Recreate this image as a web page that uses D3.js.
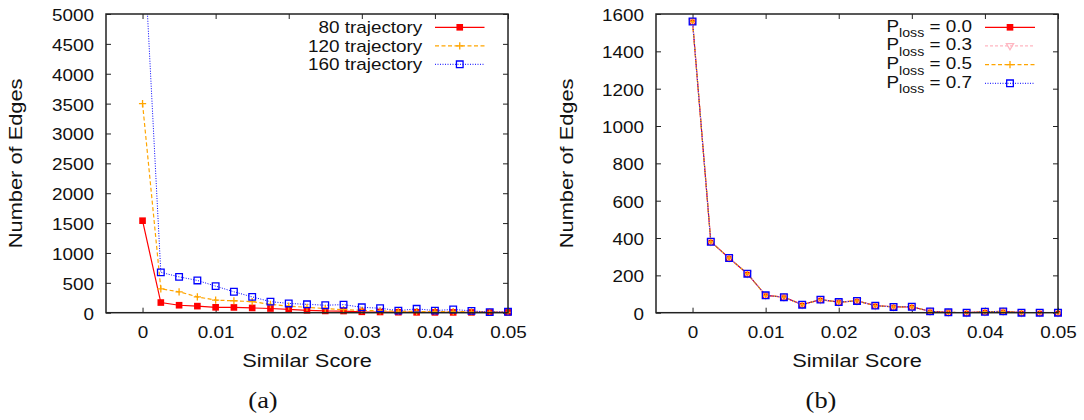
<!DOCTYPE html>
<html>
<head>
<meta charset="utf-8">
<script src="https://cdn.jsdelivr.net/npm/d3@7"></script>
<style>
  html, body { margin: 0; padding: 0; background: #fff; }
  svg { display: block; }
  text { font-family: "Liberation Sans", Arial, Helvetica, sans-serif; fill: #111; }
  text.caption { font-family: "Liberation Serif", "DejaVu Serif", serif; }
</style>
</head>
<body>
<svg id="chart" width="1084" height="420"></svg>
<script>
// Similar-score bins (x values shared by every series)
const scores = [0, 0.0025, 0.005, 0.0075, 0.01, 0.0125, 0.015, 0.0175, 0.02, 0.0225,
                0.025, 0.0275, 0.03, 0.0325, 0.035, 0.0375, 0.04, 0.0425, 0.045, 0.0475, 0.05];

// Panel (a): edges per score for different trajectory counts
const traj80  = [1540, 170, 125, 110, 90, 88, 80, 70, 55, 40, 30, 28, 15, 12, 8, 6, 5, 5, 5, 5, 5];
const traj120 = [3500, 400, 350, 265, 210, 200, 185, 140, 110, 90, 70, 50, 40, 30, 25, 20, 20, 20, 15, 10, 5];
const traj160 = [6600, 675, 600, 540, 445, 350, 265, 185, 155, 140, 125, 135, 90, 75, 35, 65, 35, 55, 30, 10, 15];

// Panel (b): edges per score for different packet-loss rates
const loss00 = [1560, 380, 293, 209, 93, 83, 43, 70, 57, 63, 38, 31, 32, 7, 2, 0, 5, 7, 0, 0, 0];
const loss03 = [1560, 380, 293, 209, 93, 83, 43, 70, 57, 63, 38, 31, 32, 7, 2, 0, 5, 7, 0, 0, 0];
const loss05 = [1560, 380, 293, 209, 93, 83, 43, 70, 57, 63, 38, 31, 32, 7, 2, 0, 5, 7, 0, 0, 0];
const loss07 = [1560, 380, 293, 209, 93, 83, 43, 70, 57, 63, 38, 31, 32, 7, 2, 0, 5, 7, 0, 0, 0];

// Tick values
const xTicks  = [0, 0.01, 0.02, 0.03, 0.04, 0.05];
const yTicksA = [0, 500, 1000, 1500, 2000, 2500, 3000, 3500, 4000, 4500, 5000];
const yTicksB = [0, 200, 400, 600, 800, 1000, 1200, 1400, 1600];

const SX = 1.18; // horizontal glyph stretch used for all labels
const svg = d3.select("#chart");

function markerPath(kind) {
  if (kind === "fsquare" || kind === "osquare") return d3.symbol(d3.symbolSquare, 44)();
  if (kind === "plus") return "M-3.6,0H3.6M0,-3.6V3.6";
  if (kind === "dtri") return "M-3.6,-2.4L3.6,-2.4L0,3.8Z";
  return "";
}
function styleMarker(sel, s) {
  if (s.marker === "fsquare") sel.attr("fill", s.color).attr("stroke", "none");
  else sel.attr("fill", "none").attr("stroke", s.color).attr("stroke-width", 1.3);
}

function stretchedText(g, x, y, str, size, anchor, rot) {
  return g.append("text")
    .attr("transform", `translate(${x},${y})` + (rot ? ` rotate(${rot})` : "") + ` scale(${SX},1)`)
    .attr("font-size", size)
    .attr("text-anchor", anchor)
    .text(str);
}

function panel(cfg) {
  const { left, right, top, bottom } = cfg;
  const x = d3.scaleLinear().domain([-0.005, 0.05]).range([left, right]);
  const y = d3.scaleLinear().domain([0, cfg.yMax]).range([bottom, top]);
  const g = svg.append("g");

  g.append("defs").append("clipPath").attr("id", cfg.id + "-clip")
    .append("rect").attr("x", left).attr("y", top)
    .attr("width", right - left).attr("height", bottom - top);

  // inward ticks on all four sides
  const tick = 5;
  g.append("g").attr("transform", `translate(0,${bottom})`)
    .call(d3.axisBottom(x).tickValues(xTicks).tickSize(-tick).tickFormat(""));
  g.append("g").attr("transform", `translate(0,${top})`)
    .call(d3.axisTop(x).tickValues(xTicks).tickSize(-tick).tickFormat(""));
  g.append("g").attr("transform", `translate(${left},0)`)
    .call(d3.axisLeft(y).tickValues(cfg.yTicks).tickSize(-tick).tickFormat(""));
  g.append("g").attr("transform", `translate(${right},0)`)
    .call(d3.axisRight(y).tickValues(cfg.yTicks).tickSize(-tick).tickFormat(""));
  g.selectAll(".domain").remove();
  g.selectAll(".tick line").attr("stroke", "#222").attr("stroke-width", 1);

  // tick labels
  const xl = g.append("g").attr("transform", `translate(0,${bottom})`)
    .call(d3.axisBottom(x).tickValues(xTicks).tickSize(0).tickFormat(d3.format("")));
  xl.select(".domain").remove();
  xl.selectAll("text").attr("y", 25.6).attr("dy", 0).attr("font-size", 16)
    .attr("font-family", null).attr("fill", "#111")
    .attr("transform", `scale(${SX},1)`);

  const yl = g.append("g").attr("transform", `translate(${left},0)`)
    .call(d3.axisLeft(y).tickValues(cfg.yTicks).tickSize(0).tickFormat(d3.format("d")));
  yl.select(".domain").remove();
  yl.selectAll("text").attr("x", -12 / SX).attr("dy", "0.4em").attr("font-size", 16)
    .attr("font-family", null).attr("fill", "#111")
    .attr("transform", `scale(${SX},1)`);

  // series
  const line = d3.line().x(d => x(d[0])).y(d => y(d[1]));
  const lines = g.append("g").attr("clip-path", `url(#${cfg.id}-clip)`);
  cfg.series.forEach(s => {
    const pts = scores.map((v, i) => [v, s.values[i]]);
    lines.append("path").datum(pts).attr("d", line)
      .attr("fill", "none").attr("stroke", s.color)
      .attr("stroke-width", s.width || 1.2)
      .attr("stroke-dasharray", s.dash || null);
    const inside = pts.filter(p => p[1] <= cfg.yMax);
    const m = g.append("g").selectAll("path").data(inside).join("path")
      .attr("transform", p => `translate(${x(p[0])},${y(p[1])})`)
      .attr("d", markerPath(s.marker));
    styleMarker(m, s);
  });

  // frame
  g.append("rect").attr("x", left).attr("y", top)
    .attr("width", right - left).attr("height", bottom - top)
    .attr("fill", "none").attr("stroke", "#222").attr("stroke-width", 1.5);

  // legend
  const L = cfg.legend;
  cfg.series.forEach((s, i) => {
    const cy = L.y0 + i * L.dy;
    if (cfg.subscriptLegend) {
      const t = g.append("text")
        .attr("transform", `translate(${L.textX},${cy + 4.4}) scale(${SX},1)`)
        .attr("font-size", 16).attr("text-anchor", "start");
      t.append("tspan").text("P");
      t.append("tspan").attr("font-size", 12).attr("dy", 5.6).text("loss");
      t.append("tspan").attr("dy", -5.6).text(" = " + s.name);
    } else {
      stretchedText(g, L.textX, cy + 5.8, s.name, 16, "end");
    }
    g.append("line").attr("x1", L.x1).attr("x2", L.x2).attr("y1", cy).attr("y2", cy)
      .attr("stroke", s.color).attr("stroke-width", s.width || 1.2)
      .attr("stroke-dasharray", s.dash || null);
    const m = g.append("path").attr("transform", `translate(${(L.x1 + L.x2) / 2},${cy})`)
      .attr("d", markerPath(s.marker));
    styleMarker(m, s);
  });

  // axis titles and caption
  const mid = (left + right) / 2;
  stretchedText(g, mid, 366.5, "Similar Score", 18.5, "middle");
  stretchedText(g, cfg.yTitleX, (top + bottom) / 2, "Number of Edges", 18.5, "middle", -90);
  g.append("text").attr("class", "caption")
    .attr("transform", `translate(${cfg.captionX},408) scale(1.1,1)`)
    .attr("font-size", 24).attr("text-anchor", "middle")
    .text(cfg.caption);
}

panel({
  id: "pa", left: 106, right: 508, top: 14, bottom: 312.7,
  yMax: 5000, yTicks: yTicksA, yTitleX: 22, caption: "(a)", captionX: 263,
  legend: { textX: 422.3, x1: 435, x2: 484.5, y0: 27.3, dy: 18.5 },
  series: [
    { name: "80 trajectory",  values: traj80,  color: "#ff0000", marker: "fsquare" },
    { name: "120 trajectory", values: traj120, color: "#ffa500", dash: "4,2.5", marker: "plus" },
    { name: "160 trajectory", values: traj160, color: "#0000ff", dash: "1,1.5", width: 1, marker: "osquare" }
  ]
});

panel({
  id: "pb", left: 656, right: 1058, top: 14, bottom: 312.7,
  yMax: 1600, yTicks: yTicksB, yTitleX: 573, caption: "(b)", captionX: 821,
  subscriptLegend: true,
  legend: { textX: 886.5, x1: 985, x2: 1035, y0: 27.3, dy: 18.67 },
  series: [
    { name: "0.0", values: loss00, color: "#ff0000", marker: "fsquare" },
    { name: "0.3", values: loss03, color: "#ffb6c1", dash: "3,2", marker: "dtri" },
    { name: "0.5", values: loss05, color: "#ffa500", dash: "4,2.5", marker: "plus" },
    { name: "0.7", values: loss07, color: "#0000ff", dash: "1,1.5", width: 1, marker: "osquare" }
  ]
});
</script>
</body>
</html>
